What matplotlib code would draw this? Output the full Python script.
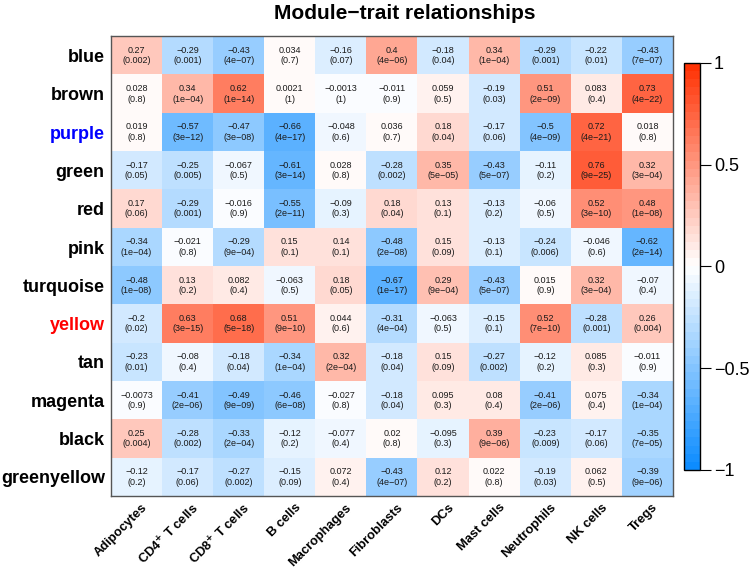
import numpy as np
import matplotlib
matplotlib.use("Agg")
import matplotlib.pyplot as plt
import matplotlib.transforms as mtransforms
from matplotlib.colors import LinearSegmentedColormap

plt.rcParams['font.family'] = ['Liberation Sans', 'DejaVu Sans']

modules = ['blue', 'brown', 'purple', 'green', 'red', 'pink', 'turquoise',
           'yellow', 'tan', 'magenta', 'black', 'greenyellow']
module_colors = ['black', 'black', 'blue', 'black', 'black', 'black', 'black',
                 'red', 'black', 'black', 'black', 'black']
traits = ['Adipocytes', r'CD4$^{\mathbf{+}}$ T cells', r'CD8$^{\mathbf{+}}$ T cells',
          'B cells', 'Macrophages', 'Fibroblasts', 'DCs', 'Mast cells',
          'Neutrophils', 'NK cells', 'Tregs']

# correlation values (text as printed) and p-values
cor_txt = [
    ['0.27', '-0.29', '-0.43', '0.034', '-0.16', '0.4', '-0.18', '0.34', '-0.29', '-0.22', '-0.43'],
    ['0.028', '0.34', '0.62', '0.0021', '-0.0013', '-0.011', '0.059', '-0.19', '0.51', '0.083', '0.73'],
    ['0.019', '-0.57', '-0.47', '-0.66', '-0.048', '0.036', '0.18', '-0.17', '-0.5', '0.72', '0.018'],
    ['-0.17', '-0.25', '-0.067', '-0.61', '0.028', '-0.28', '0.35', '-0.43', '-0.11', '0.76', '0.32'],
    ['0.17', '-0.29', '-0.016', '-0.55', '-0.09', '0.18', '0.13', '-0.13', '-0.06', '0.52', '0.48'],
    ['-0.34', '-0.021', '-0.29', '0.15', '0.14', '-0.48', '0.15', '-0.13', '-0.24', '-0.046', '-0.62'],
    ['-0.48', '0.13', '0.082', '-0.063', '0.18', '-0.67', '0.29', '-0.43', '0.015', '0.32', '-0.07'],
    ['-0.2', '0.63', '0.68', '0.51', '0.044', '-0.31', '-0.063', '-0.15', '0.52', '-0.28', '0.26'],
    ['-0.23', '-0.08', '-0.18', '-0.34', '0.32', '-0.18', '0.15', '-0.27', '-0.12', '0.085', '-0.011'],
    ['-0.0073', '-0.41', '-0.49', '-0.46', '-0.027', '-0.18', '0.095', '0.08', '-0.41', '0.075', '-0.34'],
    ['0.25', '-0.28', '-0.33', '-0.12', '-0.077', '0.02', '-0.095', '0.39', '-0.23', '-0.17', '-0.35'],
    ['-0.12', '-0.17', '-0.27', '-0.15', '0.072', '-0.43', '0.12', '0.022', '-0.19', '0.062', '-0.39'],
]
pval_txt = [
    ['0.002', '0.001', '4e-07', '0.7', '0.07', '4e-06', '0.04', '1e-04', '0.001', '0.01', '7e-07'],
    ['0.8', '1e-04', '1e-14', '1', '1', '0.9', '0.5', '0.03', '2e-09', '0.4', '4e-22'],
    ['0.8', '3e-12', '3e-08', '4e-17', '0.6', '0.7', '0.04', '0.06', '4e-09', '4e-21', '0.8'],
    ['0.05', '0.005', '0.5', '3e-14', '0.8', '0.002', '5e-05', '5e-07', '0.2', '9e-25', '3e-04'],
    ['0.06', '0.001', '0.9', '2e-11', '0.3', '0.04', '0.1', '0.2', '0.5', '3e-10', '1e-08'],
    ['1e-04', '0.8', '9e-04', '0.1', '0.1', '2e-08', '0.09', '0.1', '0.006', '0.6', '2e-14'],
    ['1e-08', '0.2', '0.4', '0.5', '0.05', '1e-17', '9e-04', '5e-07', '0.9', '3e-04', '0.4'],
    ['0.02', '3e-15', '5e-18', '9e-10', '0.6', '4e-04', '0.5', '0.1', '7e-10', '0.001', '0.004'],
    ['0.01', '0.4', '0.04', '1e-04', '2e-04', '0.04', '0.09', '0.002', '0.2', '0.3', '0.9'],
    ['0.9', '2e-06', '9e-09', '6e-08', '0.8', '0.04', '0.3', '0.4', '2e-06', '0.4', '1e-04'],
    ['0.004', '0.002', '2e-04', '0.2', '0.4', '0.8', '0.3', '9e-06', '0.009', '0.06', '7e-05'],
    ['0.2', '0.06', '0.002', '0.09', '0.4', '4e-07', '0.2', '0.8', '0.03', '0.5', '9e-06'],
]

cor = np.array([[float(v) for v in row] for row in cor_txt])

# WGCNA style blue-white-red
cmap = LinearSegmentedColormap.from_list(
    'bwr_wgcna', [(0.05, 0.55, 1.0), (1, 1, 1), (1.0, 0.2, 0.02)], N=50)

fig = plt.figure(figsize=(7.5, 5.71), dpi=100)
ax = fig.add_axes([0.148, 0.1313, 0.7493, 0.805])
cax = fig.add_axes([0.912, 0.177, 0.0213, 0.7128])

im = ax.imshow(cor, cmap=cmap, vmin=-1, vmax=1, aspect='auto', interpolation='nearest')

for i in range(cor.shape[0]):
    for j in range(cor.shape[1]):
        txt = cor_txt[i][j].replace('-', '\u2212') + '\n(' + pval_txt[i][j].replace('-', '\u2212') + ')'
        ax.text(j, i, txt, ha='center', va='center', fontsize=6.5, color='#1a1a1a', linespacing=1.2)

ax.set_yticks(range(len(modules)))
ax.set_yticklabels(modules, fontsize=13, fontweight='bold')
for lab, c in zip(ax.get_yticklabels(), module_colors):
    lab.set_color(c)
ax.set_xticks(range(len(traits)))
ax.set_xticklabels(traits, fontsize=9.3, fontweight='bold', rotation=45,
                   ha='right', va='center', rotation_mode='anchor')
ax.tick_params(length=0)
ax.tick_params(axis='y', pad=4.5)
ax.tick_params(axis='x', pad=7)
shift = mtransforms.ScaledTranslation(9 / 100, 0, fig.dpi_scale_trans)
for lab in ax.get_xticklabels():
    lab.set_transform(lab.get_transform() + shift)
for s in ax.spines.values():
    s.set_color('#555555')
    s.set_linewidth(1)

fig.text(0.54, 0.977, 'Module\u2212trait relationships', fontsize=15,
         fontweight='bold', ha='center', va='center')

cb = fig.colorbar(im, cax=cax, ticks=[-1, -0.5, 0, 0.5, 1])
cb.ax.set_yticklabels(['\u22121', '\u22120.5', '0', '0.5', '1'])
cb.ax.tick_params(labelsize=13, length=8, width=0.8, pad=2)
cb.outline.set_linewidth(1)

fig.savefig('out.png', dpi=100)
